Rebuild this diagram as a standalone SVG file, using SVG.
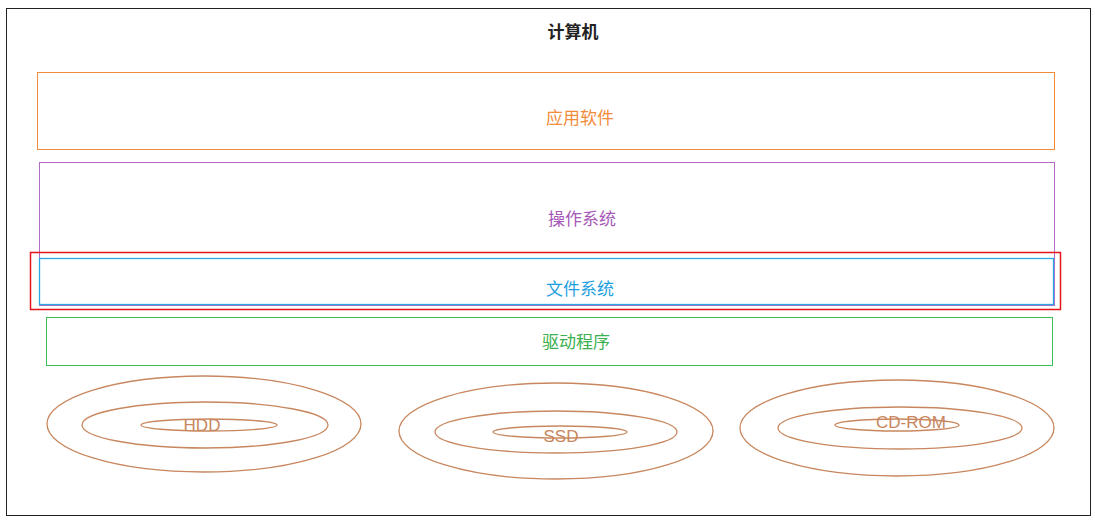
<svg xmlns="http://www.w3.org/2000/svg" width="1095" height="522" viewBox="0 0 1095 522">
<style>
text{font-family:"Microsoft YaHei","Noto Sans CJK SC",sans-serif;font-size:17px;text-anchor:middle;dominant-baseline:central}
.d{fill:none;stroke:#c8875e;stroke-width:1.3}
.dl{fill:#c8875e;font-family:"Liberation Sans",sans-serif;font-size:17px}
</style>
<rect x="0" y="0" width="1095" height="522" fill="#fff"/>
<rect x="6.5" y="8.5" width="1084" height="507" fill="none" stroke="#222" stroke-width="1"/>
<text x="573" y="30" fill="#222" font-weight="bold" font-size="16">计算机</text>
<g id="app"><rect x="37.5" y="72.5" width="1017" height="77" fill="none" stroke="#f28c3b"/><text x="580" y="116" fill="#f28c3b">应用软件</text></g>
<g id="os"><rect x="39.5" y="162.5" width="1015" height="143" fill="none" stroke="#b56cc4"/><text x="582" y="217" fill="#a658b8">操作系统</text></g>
<g id="fs"><rect x="39.5" y="258.5" width="1014" height="46" fill="none" stroke="#2aa7e0" stroke-width="1.3"/><text x="580" y="287" fill="#1e9fe0">文件系统</text></g>
<g id="hl"><rect x="30.5" y="252.5" width="1030" height="57" fill="none" stroke="#e3151a" stroke-width="1.5"/></g>
<g id="drv"><rect x="46.5" y="317.5" width="1006" height="48" fill="none" stroke="#3cbd5a"/><text x="576" y="340" fill="#3cb050">驱动程序</text></g>
<g id="hdd"><ellipse class="d" cx="204" cy="424" rx="157" ry="48"/><ellipse class="d" cx="205" cy="425" rx="123" ry="23"/><ellipse class="d" cx="209" cy="425" rx="68" ry="6"/><text class="dl" x="202" y="425">HDD</text></g>
<g id="ssd"><ellipse class="d" cx="556" cy="431" rx="157" ry="48"/><ellipse class="d" cx="556" cy="432" rx="121" ry="21"/><ellipse class="d" cx="560" cy="432" rx="67" ry="6"/><text class="dl" x="561" y="436">SSD</text></g>
<g id="cd"><ellipse class="d" cx="897" cy="428" rx="157" ry="48"/><ellipse class="d" cx="900" cy="428" rx="122" ry="21"/><ellipse class="d" cx="897" cy="425" rx="62" ry="6"/><text class="dl" x="911" y="422">CD-ROM</text></g>
<g id="connectors"/>
</svg>
